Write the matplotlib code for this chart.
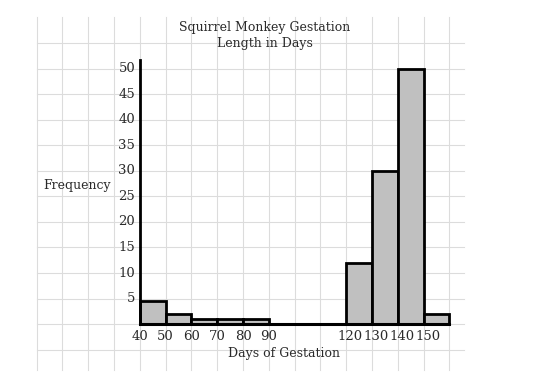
#!/usr/bin/env python3
import matplotlib
matplotlib.use('Agg')
import matplotlib.pyplot as plt

# histogram data (days of gestation, frequency)
bin_edges = [40, 50, 60, 70, 80, 90, 100, 110, 120, 130, 140, 150, 160]
counts = [4.5, 2, 1, 1, 1, 0, 0, 0, 12, 30, 50, 2]
x_ticks = [40, 50, 60, 70, 80, 90, 120, 130, 140, 150]
y_ticks = [5, 10, 15, 20, 25, 30, 35, 40, 45, 50]

title = "Squirrel Monkey Gestation\nLength in Days"
xlabel = "Days of Gestation"
ylabel = "Frequency"


def main():
    fig = plt.figure(figsize=(5.56, 3.85), dpi=100)
    ax = fig.add_axes([0, 0, 1, 1])
    ax.set_xlim(-14.2, 201.3)
    ax.set_ylim(-11.9, 63.4)
    ax.axis('off')

    font = 'DejaVu Serif'
    tcol = '#2a2a2a'
    gcol = '#dcdcdc'

    # graph paper
    for gx in range(0, 161, 10):
        ax.plot([gx, gx], [-9, 60], color=gcol, lw=0.8, zorder=0)
    for gy in range(-5, 56, 5):
        ax.plot([0, 165.5], [gy, gy], color=gcol, lw=0.8, zorder=0)

    ax.bar(bin_edges[:-1], counts, width=10, align='edge', color='#c0c0c0',
           edgecolor='black', linewidth=2.0, zorder=2)

    # axes lines
    ax.plot([40, 40], [0, 51.7], color='black', lw=2.0, zorder=3)
    ax.plot([40, 160], [0, 0], color='black', lw=2.2, zorder=3)

    for t in y_ticks:
        ax.text(38.2, t, str(t), ha='right', va='center', fontsize=9.5,
                family=font, color=tcol)
    for t in x_ticks:
        # three digit labels are squeezed a bit to the right, as in the sketch
        xo = 1.5 if t >= 100 else 0
        ax.text(t + xo, -2.5, str(t), ha='center', va='center', fontsize=9.5,
                family=font, color=tcol)

    ax.text(96, -5.8, xlabel, ha='center', va='center', fontsize=9,
            family=font, color=tcol)
    ax.text(15.5, 27.2, ylabel, ha='center', va='center', fontsize=9,
            family=font, color=tcol)
    ax.text(88.5, 56.4, title, ha='center', va='center', fontsize=9,
            family=font, color=tcol, linespacing=1.3)

    fig.savefig('out.png', dpi=100)


if __name__ == '__main__':
    main()
